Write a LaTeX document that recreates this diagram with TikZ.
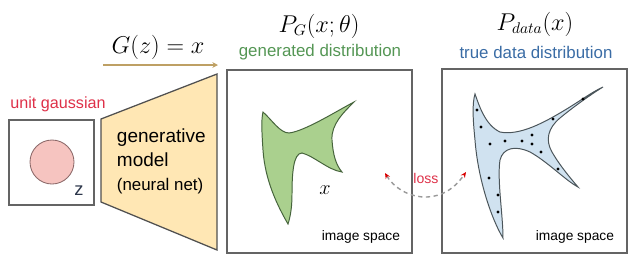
\documentclass[tikz,border=0pt]{standalone}
\usepackage{fontspec}
\newfontfamily\labelsans{Liberation Sans}
\usetikzlibrary{arrows.meta}

\definecolor{gaussred}{RGB}{222,48,72}
\definecolor{gengreen}{RGB}{84,150,84}
\definecolor{datablue}{RGB}{58,108,165}
\definecolor{shapegreen}{RGB}{170,208,142}
\definecolor{shapeblue}{RGB}{208,226,240}
\definecolor{netyellow}{RGB}{255,231,180}
\definecolor{gausspink}{RGB}{246,196,192}
\definecolor{boxgrey}{RGB}{100,100,100}

\begin{document}
\begin{tikzpicture}[
  x=0.025cm, y=-0.025cm,
  font=\labelsans,
  >=Stealth,
  space/.style={draw=boxgrey, line width=1.1pt, fill=white, inner sep=0pt},
  head/.style={font=\labelsans\fontsize{12}{14}\selectfont},
  formula/.style={font=\fontsize{16}{18}\selectfont},
  note/.style={font=\labelsans\fontsize{9.8}{11}\selectfont, anchor=east},
]
  \useasboundingbox (0,0) rectangle (640,279);

  % ===================== LEFT: latent z =====================
  \node[text=gaussred, font=\labelsans\fontsize{11.5}{13}\selectfont] (gausslbl) at (58,104) {unit gaussian};
  \node[space, minimum width=2.125cm, minimum height=2.125cm] (zbox) at (51.5,162.5) {};
  \draw[fill=gausspink, draw={rgb,255:red,140;green,105;blue,105}, line width=0.6pt]
    (52,162) circle (22);
  \node[font=\labelsans\fontsize{13}{14}\selectfont, text={rgb,255:red,45;green,55;blue,75}] (zlbl) at (79,191) {z};

  % ===================== generator =====================
  \draw[fill=netyellow, draw=boxgrey!80!black, line width=0.9pt]
    (101,119) -- (217,74) -- (217,250) -- (101,202) -- cycle;
  \node[anchor=west, align=left, font=\labelsans\fontsize{13.5}{17}\selectfont] (gen) at (112,161)
    {generative\\model\\{\fontsize{12}{16}\selectfont (neural net)}};

  \node[formula] (gmap) at (158,47) {$G(z) = x$};
  \coordinate (garrA) at (103,65);
  \coordinate (garrB) at (218,65);
  \draw[-{Stealth[length=4pt, width=4pt, fill={rgb,255:red,236;green,180;blue,50}]},
        draw={rgb,255:red,190;green,160;blue,100}, line width=0.8pt] (garrA) -- (garrB);

  % ===================== MIDDLE: generated =====================
  \node[formula] (pg) at (319,26) {$P_G(x;\theta)$};
  \node[head, text=gengreen] (genlbl) at (320,52) {generated distribution};
  \node[space, minimum width=4.625cm, minimum height=4.575cm] (gbox) at (319.5,161.5) {};

  \draw[fill=shapegreen, draw={rgb,255:red,70;green,100;blue,60}, line width=0.7pt]
    (263,112) .. controls (272,120) and (280,133) .. (289,133)
    .. controls (305,131) and (335,112) .. (354,102)
    .. controls (344,112) and (331,124) .. (332,140)
    .. controls (333,155) and (336,165) .. (342,172)
    .. controls (328,170) and (314,156) .. (302,153)
    .. controls (293,153) and (292,175) .. (292,195)
    .. controls (292,208) and (290,218) .. (288,224)
    .. controls (277,205) and (265,180) .. (263,150)
    .. controls (262,135) and (261,120) .. cycle;
  \node[font=\fontsize{15}{16}\selectfont] (xlbl) at (325,190) {$x$};
  \node[note] (gspace) at (405,237) {image space};

  % ===================== RIGHT: data =====================
  \node[formula] (pd) at (535,24) {$P_{data}(x)$};
  \node[head, text=datablue] (datalbl) at (536,52) {true data distribution};
  \node[space, minimum width=4.625cm, minimum height=4.6cm] (dbox) at (534.5,161) {};

  \draw[fill=shapeblue, draw={rgb,255:red,75;green,85;blue,90}, line width=0.7pt]
    (475,94) .. controls (479,105) and (485,125) .. (500,132)
    .. controls (520,136) and (545,122) .. (565,110)
    .. controls (580,101) and (592,92) .. (603,87)
    .. controls (590,95) and (572,108) .. (560,118)
    .. controls (548,128) and (545,140) .. (552,152)
    .. controls (560,166) and (572,180) .. (578,187)
    .. controls (565,180) and (548,162) .. (530,152)
    .. controls (515,145) and (503,148) .. (500,160)
    .. controls (497,180) and (503,215) .. (503,238)
    .. controls (492,220) and (478,180) .. (475,140)
    .. controls (473,120) and (472,104) .. cycle;
  \foreach \px/\py in {477/110, 481/127, 490/144, 505/141, 522/141, 532/135,
                       532/144, 541/152, 553/119, 583/99, 558/169, 489/178,
                       498/195, 498/212}
    \fill (\px,\py) circle[radius=1.6];
  \node[note] (dspace) at (619,237) {image space};

  % ===================== loss =====================
  \coordinate (lossA) at (385,173);
  \coordinate (lossB) at (466,172);
  \draw[{Stealth[length=4pt, width=3.5pt, red!85!black]}-{Stealth[length=4pt, width=3.5pt, red!85!black]},
        draw=black!40, line width=1pt, dash pattern=on 3pt off 2.5pt]
    (lossA) .. controls (400,198) and (440,210) .. (lossB);
  \node[text=gaussred, font=\labelsans\fontsize{10}{11}\selectfont] (losslbl) at (426,178) {loss};
\end{tikzpicture}
\end{document}
